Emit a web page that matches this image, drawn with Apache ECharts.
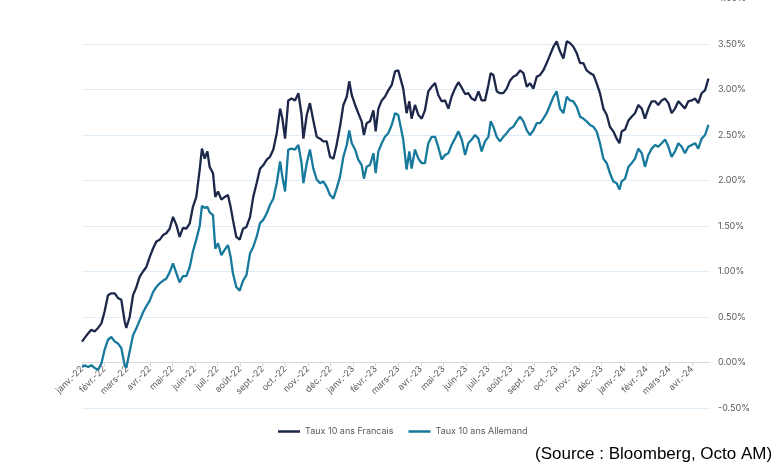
<!DOCTYPE html>
<html>
<head>
<meta charset="utf-8">
<script src="https://cdn.jsdelivr.net/npm/echarts@6/dist/echarts.min.js"></script>
<style>
html,body{margin:0;padding:0;background:#fff;}
#chart{width:780px;height:470px;}
</style>
</head>
<body>
<div id="chart"></div>
<script>
// Month labels (one per month from janv.-22)
const monthLabels = ["janv.-22","févr.-22","mars-22","avr.-22","mai-22","juin-22","juil.-22","août-22","sept.-22","oct.-22","nov.-22","déc.-22",
  "janv.-23","févr.-23","mars-23","avr.-23","mai-23","juin-23","juil.-23","août-23","sept.-23","oct.-23","nov.-23","déc.-23",
  "janv.-24","févr.-24","mars-24","avr.-24"];

// Time of each observation, in months since 1 Jan 2022
const months = [
  0.00,0.12,0.27,0.41,0.56,0.71,0.86,1.00,1.15,1.30,1.45,1.59,1.74,1.89,1.96,2.11,2.26,2.41,2.55,2.70,2.85,3.00,3.14,3.29,3.44,3.59,3.73,3.88,4.03,4.18,4.32,4.47,4.62,4.77,4.91,5.06,5.21,5.31,5.43,5.55,5.65,5.80,5.90,6.02,6.17,6.32,6.46,6.58,6.68,6.83,6.98,7.13,7.28,
  7.44,7.58,7.73,7.88,8.03,8.18,8.32,8.47,8.62,8.77,8.87,8.99,9.13,9.28,9.43,9.58,9.72,9.80,9.95,10.09,10.24,10.39,10.54,10.68,10.83,10.98,11.13,11.27,11.42,11.57,11.72,11.83,11.94,12.09,12.23,12.38,12.48,12.60,12.75,12.90,13.00,13.12,13.27,13.41,13.56,13.71,13.86,14.00,
  14.22,14.37,14.49,14.59,14.74,14.89,15.04,15.18,15.33,15.48,15.63,15.77,15.92,16.07,16.22,16.36,16.51,16.66,16.81,16.96,17.10,17.25,17.40,17.55,17.69,17.84,17.99,18.09,18.21,18.36,18.50,18.65,18.80,18.95,19.09,19.24,19.39,19.54,19.69,19.83,19.98,20.13,20.28,20.42,20.57,20.72,20.87,21.01,
  21.16,21.31,21.46,21.60,21.75,21.90,22.05,22.19,22.34,22.49,22.64,22.78,22.93,23.08,23.23,23.37,23.52,23.67,23.79,23.89,24.04,24.19,24.33,24.48,24.63,24.78,24.92,25.07,25.22,25.37,25.51,25.66,25.81,25.96,26.10,26.25,26.40,26.55,26.69,26.84,26.99,27.14,27.28,27.43,27.58,27.65,27.73
];

// Taux 10 ans Francais (%)
const tauxFrancais = [
  0.23,0.27,0.32,0.36,0.34,0.38,0.43,0.56,0.74,0.76,0.76,0.71,0.69,0.45,0.38,0.50,0.74,0.83,0.94,1.00,1.05,1.16,1.25,1.33,1.35,1.40,1.42,1.47,1.60,1.51,1.38,1.48,1.47,1.53,1.71,1.82,2.12,2.35,2.24,2.32,2.15,2.08,1.82,1.88,1.79,1.82,1.84,1.71,1.57,1.38,1.35,1.47,1.49,
  1.60,1.82,1.97,2.13,2.17,2.23,2.26,2.34,2.52,2.79,2.68,2.46,2.88,2.90,2.88,2.96,2.72,2.46,2.72,2.85,2.66,2.48,2.46,2.43,2.43,2.26,2.24,2.39,2.59,2.83,2.92,3.09,2.94,2.83,2.74,2.65,2.50,2.63,2.65,2.77,2.54,2.79,2.88,2.92,2.99,3.05,3.20,3.21,
  3.01,2.74,2.87,2.68,2.83,2.72,2.68,2.77,2.98,3.03,3.07,2.94,2.87,2.88,2.79,2.92,3.01,3.08,3.02,2.95,2.96,2.90,2.88,2.98,2.88,2.88,3.05,3.18,3.16,2.98,2.96,2.96,3.01,3.10,3.14,3.16,3.21,3.18,3.03,3.07,3.01,3.14,3.16,3.21,3.29,3.38,3.47,3.53,
  3.42,3.34,3.53,3.51,3.47,3.40,3.29,3.29,3.21,3.18,3.16,3.07,2.96,2.79,2.72,2.59,2.54,2.46,2.41,2.54,2.56,2.66,2.70,2.74,2.83,2.79,2.68,2.79,2.87,2.87,2.83,2.88,2.90,2.85,2.74,2.79,2.87,2.83,2.79,2.87,2.88,2.90,2.85,2.96,2.99,2.99,3.12
];

// Taux 10 ans Allemand (%)
const tauxAllemand = [
  -0.05,-0.03,-0.05,-0.03,-0.06,-0.08,-0.01,0.14,0.25,0.28,0.23,0.21,0.16,-0.03,-0.06,0.12,0.30,0.38,0.46,0.55,0.62,0.68,0.77,0.83,0.87,0.90,0.92,0.99,1.09,0.98,0.88,0.95,0.95,1.05,1.22,1.35,1.50,1.72,1.70,1.71,1.65,1.62,1.25,1.31,1.18,1.24,1.29,1.16,0.98,0.83,0.79,0.90,0.96,
  1.20,1.27,1.38,1.53,1.57,1.64,1.73,1.80,1.97,2.21,2.04,1.88,2.34,2.35,2.34,2.39,2.19,1.97,2.19,2.34,2.13,2.01,1.97,1.99,1.93,1.84,1.80,1.91,2.04,2.26,2.39,2.55,2.41,2.34,2.23,2.17,2.02,2.15,2.17,2.30,2.08,2.32,2.41,2.48,2.52,2.61,2.74,2.72,
  2.45,2.12,2.32,2.13,2.34,2.24,2.19,2.19,2.41,2.48,2.48,2.37,2.23,2.28,2.30,2.39,2.46,2.54,2.45,2.28,2.41,2.45,2.50,2.46,2.32,2.43,2.48,2.65,2.59,2.48,2.43,2.48,2.52,2.57,2.59,2.65,2.70,2.65,2.55,2.50,2.55,2.63,2.63,2.68,2.74,2.83,2.92,2.98,
  2.79,2.74,2.92,2.88,2.87,2.81,2.70,2.68,2.65,2.61,2.59,2.54,2.41,2.24,2.19,2.08,1.99,1.97,1.90,1.99,2.02,2.15,2.19,2.24,2.35,2.30,2.15,2.28,2.35,2.39,2.37,2.41,2.45,2.37,2.26,2.32,2.41,2.37,2.30,2.37,2.39,2.41,2.35,2.46,2.50,2.48,2.61
];

const monthTicks = monthLabels.map((_, i) => i);
const labelColor = '#595959';
const font = 'Inter, "Open Sans", sans-serif';

const chart = echarts.init(document.getElementById('chart'), null, {renderer: 'canvas'});
chart.setOption({
  animation: false,
  backgroundColor: '#ffffff',
  grid: {left: 82, right: 70, top: -1.5, bottom: 62, containLabel: false, outerBoundsMode: 'none'},
  xAxis: {
    type: 'value',
    position: 'bottom',
    offset: -45.5,
    min: 0,
    max: 27.8,
    interval: 1,
    axisLine: {show: true, onZero: false, lineStyle: {color: '#d9d9d9', width: 1}},
    axisTick: {show: true, length: 4, customValues: monthTicks, lineStyle: {color: '#d9d9d9'}},
    splitLine: {show: false},
    axisLabel: {
      customValues: monthTicks,
      rotate: 45,
      margin: 5,
      fontSize: 9,
      color: labelColor,
      fontFamily: font,
      hideOverlap: false,
      formatter: v => monthLabels[Math.round(v)] || ''
    }
  },
  yAxis: {
    type: 'value',
    position: 'right',
    min: -0.5,
    max: 4,
    interval: 0.5,
    axisLine: {show: false},
    axisTick: {show: false},
    splitLine: {lineStyle: {color: '#deedf8', width: 1}},
    axisLabel: {
      margin: 8,
      fontSize: 9,
      color: labelColor,
      fontFamily: font,
      formatter: v => v.toFixed(2) + '%'
    }
  },
  legend: {
    top: 422,
    left: 273,
    icon: 'rect',
    itemWidth: 22,
    itemHeight: 2.5,
    itemGap: 15,
    textStyle: {fontSize: 9, color: labelColor, fontFamily: font},
    data: ['Taux 10 ans Francais', 'Taux 10 ans Allemand']
  },
  graphic: [{
    type: 'text',
    left: 535,
    top: 446,
    style: {
      text: '(Source : Bloomberg, Octo AM)',
      fontFamily: '"Liberation Sans", Arial, sans-serif',
      fontSize: 17,
      fill: '#000000'
    }
  }],
  series: [
    {
      name: 'Taux 10 ans Francais',
      type: 'line',
      showSymbol: false,
      symbol: 'none',
      lineStyle: {color: '#1c2749', width: 2.3},
      itemStyle: {color: '#1c2749'},
      data: months.map((t, i) => [t, tauxFrancais[i]])
    },
    {
      name: 'Taux 10 ans Allemand',
      type: 'line',
      showSymbol: false,
      symbol: 'none',
      lineStyle: {color: '#17799b', width: 2.3},
      itemStyle: {color: '#17799b'},
      data: months.map((t, i) => [t, tauxAllemand[i]])
    }
  ]
});
</script>
</body>
</html>
